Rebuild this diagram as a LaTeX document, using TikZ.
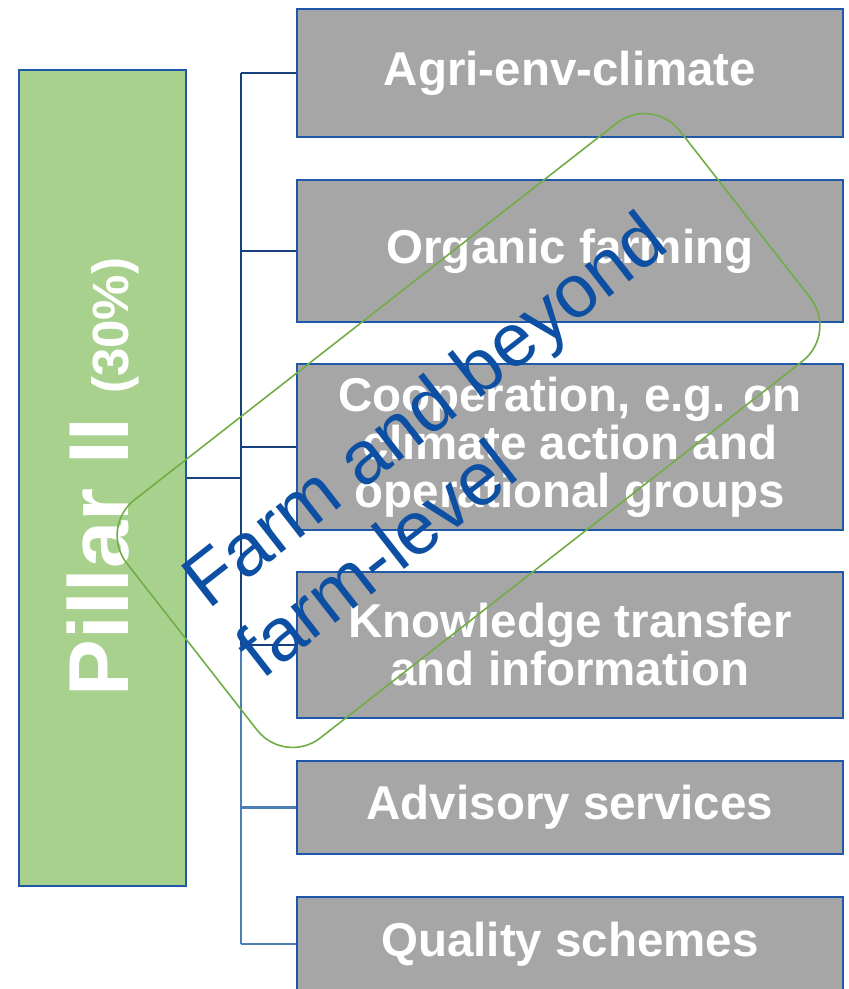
\documentclass[tikz,border=0pt]{standalone}
\usepackage{fontspec}
\setmainfont{Liberation Sans}
\definecolor{pillargreen}{HTML}{A9D18E}
\definecolor{boxgray}{HTML}{A6A6A6}
\definecolor{boxblue}{HTML}{1F58A8}
\definecolor{busdark}{HTML}{17407E}
\definecolor{buslight}{HTML}{4A7EB5}
\definecolor{ovalgreen}{HTML}{70AD47}
\definecolor{textblue}{HTML}{0D4FA3}
\begin{document}
\begin{tikzpicture}[x=1pt,y=-1pt,
  measurebox/.style={draw=boxblue, line width=2.5pt, fill=boxgray, minimum width=546pt, inner sep=0pt,
    text=white, align=center, font=\fontsize{47.5}{48}\selectfont\bfseries},
  darkline/.style={draw=busdark, line width=2.3pt},
  lightline/.style={draw=buslight, line width=2.3pt}]
\useasboundingbox (0,0) rectangle (849,989);
% pillar
\node[draw=boxblue, line width=2.2pt, fill=pillargreen, minimum width=167pt, minimum height=816pt, inner sep=0pt]
  (pillar) at (102.5,478) {};
\node[rotate=90, inner sep=0pt, text=white] (pillartext) at (102.5,477)
  {\fontsize{85}{85}\selectfont\bfseries Pillar II \fontsize{51}{51}\selectfont (30\%)};
% measure boxes
\node[measurebox, minimum height=128pt] (b1) at (570,73) {Agri-env-climate};
\node[measurebox, minimum height=142pt] (b2) at (570,251) {Organic farming};
\node[measurebox, minimum height=166pt] (b3) at (570,447) {Cooperation, e.g. on\\climate action and\\operational groups};
\node[measurebox, minimum height=146pt] (b4) at (570,645) {Knowledge transfer\\and information};
\node[measurebox, minimum height=93pt] (b5) at (570,807.5) {Advisory services};
\node[measurebox, minimum height=94pt] (b6) at (570,944) {Quality schemes};
% connectors
\coordinate (busx) at (241,0);
\draw[darkline] (b1.west -| busx) -- (b4.west -| busx);
\draw[lightline] (b4.west -| busx) -- (b6.west -| busx);
\draw[darkline] (pillar.east) -- (pillar.east -| busx);
\draw[darkline] (b1.west -| busx) -- (b1.west);
\draw[darkline] (b2.west -| busx) -- (b2.west);
\draw[darkline] (b3.west -| busx) -- (b3.west);
\draw[darkline] (b4.west -| busx) -- (b4.west);
\draw[lightline] (b5.west -| busx) -- (b5.west);
\draw[lightline] (b6.west -| busx) -- (b6.west);
% rotated rounded rectangle
\node[draw=ovalgreen, line width=1.6pt, rounded corners=45pt, minimum width=702pt, minimum height=302pt,
  inner sep=0pt, rotate=38] (oval) at (468.5,430.5) {};
\node[rotate=38, text=textblue, align=left, inner sep=0pt, anchor=base west,
  font=\fontsize{75}{88.5}\selectfont] (farmtext) at (262.5,680.5) {Farm and beyond\\farm-level};
\end{tikzpicture}
\end{document}
